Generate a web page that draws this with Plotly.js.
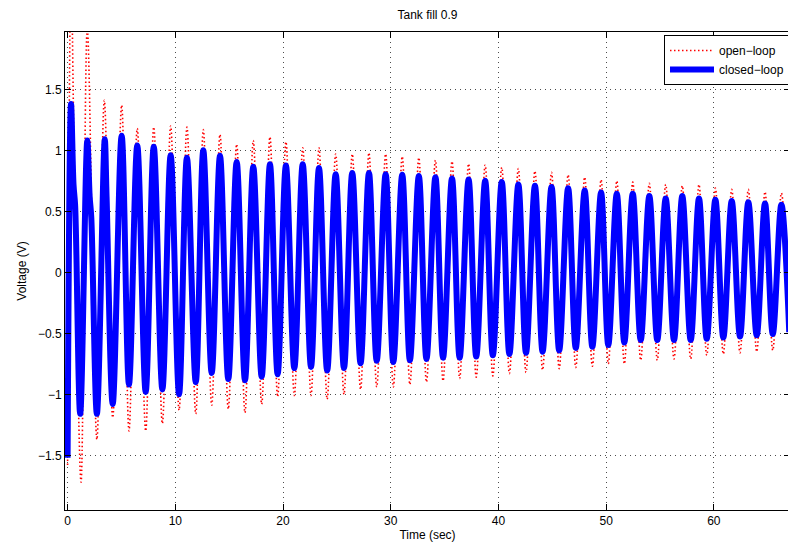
<!DOCTYPE html>
<html>
<head>
<meta charset="utf-8">
<script src="https://cdn.plot.ly/plotly-3.0.1.min.js"></script>
<style>
html,body{margin:0;padding:0;overflow:hidden;background:#fff;}
#chart{width:800px;height:546px;}
</style>
</head>
<body>
<div id="chart"></div>
<script>
// Closed-loop (blue) extremum points
var blueTime = [0, 0.32, 0.55, 0.7, 1.17, 1.83, 2.05, 2.2, 2.72, 3.45, 3.62, 4.19, 5.02, 5.7, 6.47, 7.25, 8.0, 8.8, 9.57, 10.35, 11.08, 11.9,
  12.6, 13.38, 14.15, 14.92, 15.70, 16.47, 17.24, 18.02, 18.79, 19.5, 20.27, 21.05, 21.83, 22.6, 23.34, 24.1, 24.89, 25.66, 26.43, 27.2, 27.98, 28.7, 29.53, 30.24,
  31.07, 31.78, 32.61, 33.32, 34.15, 34.86, 35.69, 36.4, 37.23, 37.94, 38.77, 39.48, 40.31, 41.02, 41.85, 42.56, 43.39, 44.1, 44.93, 45.64, 46.47, 47.18, 48.01, 48.72,
  49.53, 50.2, 50.99, 51.69, 52.47, 53.21, 54.01, 54.75, 55.53, 56.3, 57.07, 57.85, 58.62, 59.34, 60.14, 60.88, 61.66, 62.43, 63.2, 63.98, 64.75, 65.47, 66.27, 67.0];
var blueVolt = [-1.52, 1.38, 0.72, 0.55, -1.16, 1.08, 0.62, 0.45, -1.16, 1.09, 0.62, -1.08, 1.12, -0.92, 1.04, -0.98, 1.03, -0.96, 0.96, -1.0, 0.94, -0.9,
  1.0, -0.825, 0.955, -0.875, 0.905, -0.885, 0.865, -0.855, 0.885, -0.835, 0.875, -0.785, 0.885, -0.775, 0.855, -0.805, 0.805, -0.785, 0.815, -0.745, 0.815, -0.725, 0.805, -0.735,
  0.80, -0.72, 0.79, -0.71, 0.78, -0.70, 0.77, -0.70, 0.76, -0.69, 0.75, -0.68, 0.74, -0.67, 0.72, -0.66, 0.71, -0.65, 0.70, -0.64, 0.69, -0.62, 0.67, -0.61,
  0.655, -0.595, 0.645, -0.575, 0.645, -0.555, 0.625, -0.555, 0.605, -0.555, 0.625, -0.555, 0.605, -0.545, 0.595, -0.535, 0.585, -0.525, 0.575, -0.515, 0.565, -0.505, 0.555, -0.49];

// Open-loop (red) extremum points
var redTime = [0, 0.32, 0.62, 1.25, 1.83, 2.72, 3.41, 4.19, 5.02, 5.7, 6.47, 7.25, 8.0, 8.8, 9.57, 10.35, 11.08, 11.9,
  12.6, 13.38, 14.15, 14.92, 15.70, 16.47, 17.24, 18.02, 18.79, 19.5, 20.27, 21.05, 21.83, 22.6, 23.34, 24.1, 24.89, 25.66, 26.43, 27.2, 27.98, 28.7, 29.53, 30.24,
  31.07, 31.78, 32.61, 33.32, 34.15, 34.86, 35.69, 36.4, 37.23, 37.94, 38.77, 39.48, 40.31, 41.02, 41.85, 42.56, 43.39, 44.1, 44.93, 45.64, 46.47, 47.18, 48.01, 48.72,
  49.53, 50.2, 50.99, 51.69, 52.47, 53.21, 54.01, 54.75, 55.53, 56.3, 57.07, 57.85, 58.62, 59.34, 60.14, 60.88, 61.66, 62.43, 63.2, 63.98, 64.75, 65.47, 66.27, 67.0];
var redVolt = [-1.58, 2.5, 0.9, -1.72, 2.0, -1.37, 1.41, -1.19, 1.37, -1.30, 1.18, -1.30, 1.19, -1.24, 1.20, -1.13, 1.19, -1.16,
  1.17, -1.09, 1.13, -1.12, 1.05, -1.15, 1.08, -1.08, 1.11, -1.02, 1.07, -1.01, 1.02, -1.01, 1.02, -1.04, 0.97, -1.00, 0.97, -0.96, 0.98, -0.94, 0.97, -0.94,
  0.95, -0.92, 0.94, -0.90, 0.92, -0.89, 0.91, -0.87, 0.89, -0.86, 0.88, -0.85, 0.86, -0.83, 0.85, -0.82, 0.83, -0.80, 0.82, -0.79, 0.80, -0.78, 0.78, -0.77,
  0.76, -0.75, 0.75, -0.75, 0.74, -0.72, 0.73, -0.72, 0.72, -0.71, 0.71, -0.71, 0.72, -0.68, 0.69, -0.67, 0.68, -0.66, 0.68, -0.65, 0.66, -0.64, 0.65, -0.62];

var xTickVals = [0, 10, 20, 30, 40, 50, 60];
var yTickVals = [-1.5, -1, -0.5, 0, 0.5, 1, 1.5];
var yTickText = ['\u22121.5', '\u22121', '\u22120.5', '0', '0.5', '1', '1.5'];

var FONT = 'Liberation Sans, Arial, Helvetica, sans-serif';

var traces = [
  {
    x: redTime, y: redVolt, type: 'scatter', mode: 'lines', name: 'open\u2212loop',
    line: {color: 'rgb(255,0,0)', width: 1.6, dash: '1.5px,2.5px', shape: 'spline', smoothing: 1}
  },
  {
    x: blueTime, y: blueVolt, type: 'scatter', mode: 'lines', name: 'closed\u2212loop',
    line: {color: 'rgb(0,0,255)', width: 6, shape: 'spline', smoothing: 1}
  }
];

var axisCommon = {
  showline: true, linecolor: '#000', linewidth: 1, mirror: 'ticks',
  ticks: 'inside', ticklen: 6, tickwidth: 1, tickcolor: '#000',
  showgrid: true, gridcolor: 'rgba(0,0,0,0.7)', gridwidth: 1, griddash: '1px,4px',
  zeroline: false, tickfont: {family: FONT, size: 12, color: '#000'}
};

var layout = {
  width: 800, height: 546,
  margin: {l: 65, r: 10, t: 32, b: 36},
  paper_bgcolor: '#fff', plot_bgcolor: '#fff',
  font: {family: FONT, size: 12, color: '#000'},
  title: {text: 'Tank fill 0.9', font: {family: FONT, size: 12, color: '#000'},
          x: 0.5, xref: 'paper', y: 1 - 15/546, yref: 'container', yanchor: 'middle'},
  xaxis: Object.assign({}, axisCommon, {
    range: [-0.24, 67.07], tickvals: xTickVals, ticktext: xTickVals.map(String),
    title: {text: 'Time (sec)', font: {family: FONT, size: 12, color: '#000'}, standoff: 3}
  }),
  yaxis: Object.assign({}, axisCommon, {
    range: [-1.948, 1.97], tickvals: yTickVals, ticktext: yTickText,
    title: {text: 'Voltage (V)', font: {family: FONT, size: 12, color: '#000'}, standoff: 8}
  }),
  showlegend: true,
  legend: {x: 1, xanchor: 'right', y: 1 - 3/478, yanchor: 'top', itemwidth: 44,
           bgcolor: '#fff', bordercolor: '#000', borderwidth: 1,
           font: {family: FONT, size: 12, color: '#000'}, tracegroupgap: 0}
};

Plotly.newPlot('chart', traces, layout, {displayModeBar: false, staticPlot: true});
</script>
</body>
</html>
